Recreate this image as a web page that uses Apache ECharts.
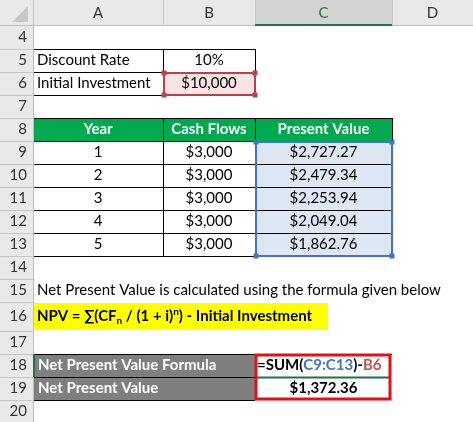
<!DOCTYPE html><html><head><meta charset="utf-8">
<script src="https://cdn.jsdelivr.net/npm/echarts@6/dist/echarts.min.js"></script>
<style>html,body{margin:0;padding:0;background:#fff}#c{width:473px;height:422px}</style></head><body><div id="c"></div>
<script>
var colLetters = ['A','B','C','D'];
var rowNumbers = [4,5,6,7,8,9,10,11,12,13,14,15,16,17,18,19,20];
var years = ['1','2','3','4','5'];
var cashFlows = ['$3,000','$3,000','$3,000','$3,000','$3,000'];
var presentValues = ['$2,727.27','$2,479.34','$2,253.94','$2,049.04','$1,862.76'];
var discountRate = '10%';
var initialInvestment = '$10,000';
var npvValue = '$1,372.36';

var colX = [0,33,163,255,392,473];
var headH = 26;
var rowTop = {}; var y = headH;
var rowH = {16:29};
rowNumbers.forEach(function(r){ rowTop[r]=y; y += (rowH[r]||23); });
function rb(r){ return rowTop[r] + (rowH[r]||23); }
var FONT = 'Lato, "Open Sans", sans-serif';

var els = [];
function rect(x1,y1,x2,y2,fill,stroke,lw,z){ els.push({type:'rect',shape:{x:x1,y:y1,width:x2-x1,height:y2-y1},style:{fill:fill||'none',stroke:stroke||null,lineWidth:lw||1},z2:z||0}); }
function text(x,y,t,opt){ opt=opt||{}; els.push({type:'text',x:x,y:y,style:{text:t,fill:opt.color||'#000',font:(opt.bold?'bold ':'')+(opt.size||15)+'px '+FONT,align:opt.align||'left',verticalAlign:'middle',rich:opt.rich},z2:10}); }
function line(x1,y1,x2,y2,c,lw,z){ els.push({type:'line',shape:{x1:x1,y1:y1,x2:x2,y2:y2},style:{stroke:c,lineWidth:lw||1},z2:z||1}); }
function mid(r){ return (rowTop[r]+rb(r))/2; }
function cx(c){ return (colX[c]+colX[c+1])/2; } // 1=A,2=B,3=C,4=D

rect(0,0,473,headH,'#e9e9e9');
rect(colX[3],0,colX[4],headH,'#d3d3d3');
line(colX[3],headH-1,colX[4],headH-1,'#217346',2,3);
els.push({type:'polygon',shape:{points:[[28,6],[28,22],[12,22]]},style:{fill:'#c8c8c8'},z2:2});
for(var i=1;i<colX.length;i++) line(colX[i]+0.5,0,colX[i]+0.5,headH,'#c6c6c6',1,2);
line(0,headH-0.5,473,headH-0.5,'#bdbdbd',1,2);
colLetters.forEach(function(l,i){ text(cx(i+1),13,l,{align:'center',color:i==2?'#217346':'#333',size:15}); });
rect(0,headH,colX[1],422,'#e9e9e9');
line(colX[1]+0.5,headH,colX[1]+0.5,422,'#bdbdbd',1,2);
rowNumbers.forEach(function(r){
  line(0,rb(r)+0.5,colX[1],rb(r)+0.5,'#c6c6c6',1,2);
  text(colX[1]-6,mid(r),String(r),{align:'right',color:'#333',size:15});
});

[[5,'Discount Rate',discountRate],[6,'Initial Investment',initialInvestment]].forEach(function(d){
  text(colX[1]+4,mid(d[0]),d[1]);
  text(cx(2),mid(d[0]),d[2],{align:'center'});
});
rect(colX[2],rowTop[6],colX[3],rb(6),'#f9e4e4');
line(colX[1],rowTop[5]+0.5,colX[3],rowTop[5]+0.5,'#000');
line(colX[1],rb(5)+0.5,colX[3],rb(5)+0.5,'#000');
line(colX[1],rb(6)+0.5,colX[3],rb(6)+0.5,'#000');
line(colX[2]+0.5,rowTop[5],colX[2]+0.5,rb(6),'#000');
line(colX[3]+0.5,rowTop[5],colX[3]+0.5,rb(6),'#000');
els.push({type:'rect',shape:{x:colX[2]+1,y:rowTop[6]+1,width:colX[3]-colX[2]-1,height:22},style:{fill:'none',stroke:'#b9414c',lineWidth:2},z2:5});
[[colX[2]+1,rowTop[6]+1],[colX[3],rowTop[6]+1],[colX[2]+1,rb(6)],[colX[3],rb(6)]].forEach(function(p){rect(p[0]-2.5,p[1]-2.5,p[0]+2.5,p[1]+2.5,'#b9414c',null,1,6);});

rect(colX[1],rowTop[8],colX[4],rb(8),'#00a850');
text(cx(1),mid(8),'Year',{align:'center',bold:true,color:'#fff'});
text(cx(2),mid(8),'Cash Flows',{align:'center',bold:true,color:'#fff'});
text(cx(3),mid(8),'Present Value',{align:'center',bold:true,color:'#fff'});
years.forEach(function(yv,i){
  var r=9+i;
  text(cx(1),mid(r),yv,{align:'center'});
  text(cx(2),mid(r),cashFlows[i],{align:'center'});
  rect(colX[3],rowTop[r],colX[4],rb(r),'#dde7f4');
  text(cx(3),mid(r),presentValues[i],{align:'center'});
});
for(var r=8;r<=13;r++) line(colX[1],rb(r)+0.5,colX[4],rb(r)+0.5,'#000');
line(colX[1],rowTop[8]+0.5,colX[4],rowTop[8]+0.5,'#000');
[colX[2],colX[3],colX[4]].forEach(function(x){line(x+0.5,rowTop[8],x+0.5,rb(13),'#000');});
els.push({type:'rect',shape:{x:colX[3]+1,y:rowTop[9]+1,width:colX[4]-colX[3]-1,height:rb(13)-rowTop[9]-1},style:{fill:'none',stroke:'#4472c4',lineWidth:2},z2:5});
[[colX[3]+1,rowTop[9]+1],[colX[4],rowTop[9]+1],[colX[3]+1,rb(13)],[colX[4],rb(13)]].forEach(function(p){rect(p[0]-2.5,p[1]-2.5,p[0]+2.5,p[1]+2.5,'#4472c4',null,1,6);});

text(colX[1]+4,mid(15),'Net Present Value is calculated using the formula given below');
rect(colX[1],rowTop[16]+1,328,rb(16)-1,'#ffff00');
text(colX[1]+4,mid(16),'{b|NPV = ∑(CF}{sub|n}{b| / (1 + i)}{sup|n}{b|) - Initial Investment}',{rich:{
  b:{font:'bold 15px '+FONT,fill:'#000'},
  sub:{font:'bold 10px '+FONT,fill:'#000',padding:[8,0,0,0]},
  sup:{font:'bold 10px '+FONT,fill:'#000',padding:[0,0,10,0]}}});

rect(colX[1],rowTop[18],colX[3],rb(19),'#7f7f7f');
line(colX[1],rowTop[18]+0.5,colX[4],rowTop[18]+0.5,'#000');
line(colX[1],rb(18)+0.5,colX[3],rb(18)+0.5,'#000');
line(colX[1],rb(19)+0.5,colX[3],rb(19)+0.5,'#000');
line(colX[1]+1,rowTop[18],colX[1]+1,rb(18),'#217346',2,3);
text(colX[1]+5,mid(18),'Net Present Value Formula',{bold:true,color:'#fff'});
text(colX[1]+5,mid(19),'Net Present Value',{bold:true,color:'#fff'});
text(colX[3]+2,mid(18),'{k|=SUM(}{bl|C9:C13}{k|)-}{rd|B6}',{rich:{
  k:{font:'bold 15px '+FONT,fill:'#000'},bl:{font:'bold 15px '+FONT,fill:'#4472c4'},rd:{font:'bold 15px '+FONT,fill:'#c0504d'}}});
line(colX[3]+2,rb(18)+0.5,colX[4]-2,rb(18)+0.5,'#217346',2,4);
text(cx(3),mid(19),npvValue,{align:'center',bold:true});
els.push({type:'rect',shape:{x:colX[3]+1,y:rowTop[18]+1,width:colX[4]-colX[3]-3,height:rb(19)-rowTop[18]-2},style:{fill:'none',stroke:'#e0111b',lineWidth:3},z2:8});

var chart = echarts.init(document.getElementById('c'));
chart.setOption({animation:false,graphic:{elements:els}});
</script></body></html>
